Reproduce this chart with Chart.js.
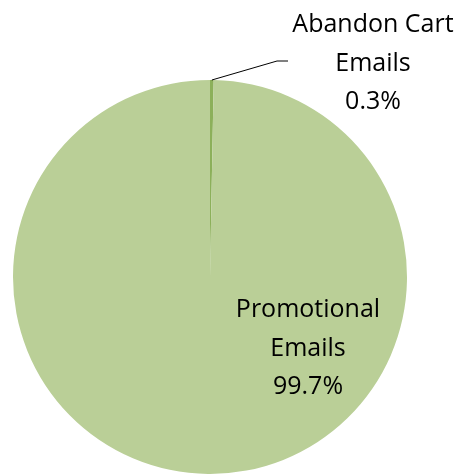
<!DOCTYPE html>
<html>
<head>
<meta charset="utf-8">
<script src="https://cdn.jsdelivr.net/npm/chart.js@4.4.1/dist/chart.umd.min.js"></script>
<style>
    html, body { margin: 0; padding: 0; background: #ffffff; }
    #wrap { width: 462px; height: 474px; }
</style>
</head>
<body>
<div id="wrap"><canvas id="pieChart" width="462" height="474"></canvas></div>
<script>
// --- DATA ---
const categories = ['Abandon Cart Emails', 'Promotional Emails'];
const labelLines = [['Abandon Cart', 'Emails'], ['Promotional', 'Emails']];
const shares = [0.3, 99.7];
const sliceColors = ['#8cb05a', '#bacf97'];

// --- LABEL PLUGIN (Excel-style data labels with leader line) ---
const pieLabels = {
    id: 'pieLabels',
    afterDatasetsDraw(chart, args, opts) {
        const ctx = chart.ctx;
        const arcs = chart.getDatasetMeta(0).data;
        const cx = arcs[0].x, cy = arcs[0].y;
        ctx.save();
        ctx.font = opts.font;
        ctx.fillStyle = '#000000';
        ctx.textAlign = 'center';
        ctx.textBaseline = 'alphabetic';

        arcs.forEach((arc, i) => {
            const place = opts.places[i];
            const lines = [...labelLines[i], shares[i].toFixed(1) + '%'];
            lines.forEach((txt, k) => {
                ctx.fillText(txt, cx + place.dx, cy + place.dy + k * opts.lineHeight);
            });

            if (place.leader) {
                const mid = (arc.startAngle + arc.endAngle) / 2;
                const r = arc.outerRadius;
                ctx.beginPath();
                ctx.strokeStyle = '#000000';
                ctx.lineWidth = 1;
                ctx.moveTo(cx + Math.cos(mid) * r, cy + Math.sin(mid) * r);
                ctx.lineTo(cx + place.leader[0][0], cy + place.leader[0][1]);
                ctx.lineTo(cx + place.leader[1][0], cy + place.leader[1][1]);
                ctx.stroke();
            }
        });
        ctx.restore();
    }
};

new Chart(document.getElementById('pieChart').getContext('2d'), {
    type: 'pie',
    data: {
        labels: categories,
        datasets: [{
            data: shares,
            backgroundColor: sliceColors,
            borderWidth: 0
        }]
    },
    options: {
        responsive: false,
        animation: false,
        layout: { padding: { left: 12, right: 54, top: 80, bottom: 0 } },
        plugins: {
            legend: { display: false },
            tooltip: { enabled: false },
            pieLabels: {
                font: '25px "Open Sans"',
                lineHeight: 38.5,
                places: [
                    { dx: 163, dy: -245, leader: [[67, -216], [78, -216]] },
                    { dx: 98, dy: 40 }
                ]
            }
        }
    },
    plugins: [pieLabels]
});
</script>
</body>
</html>
